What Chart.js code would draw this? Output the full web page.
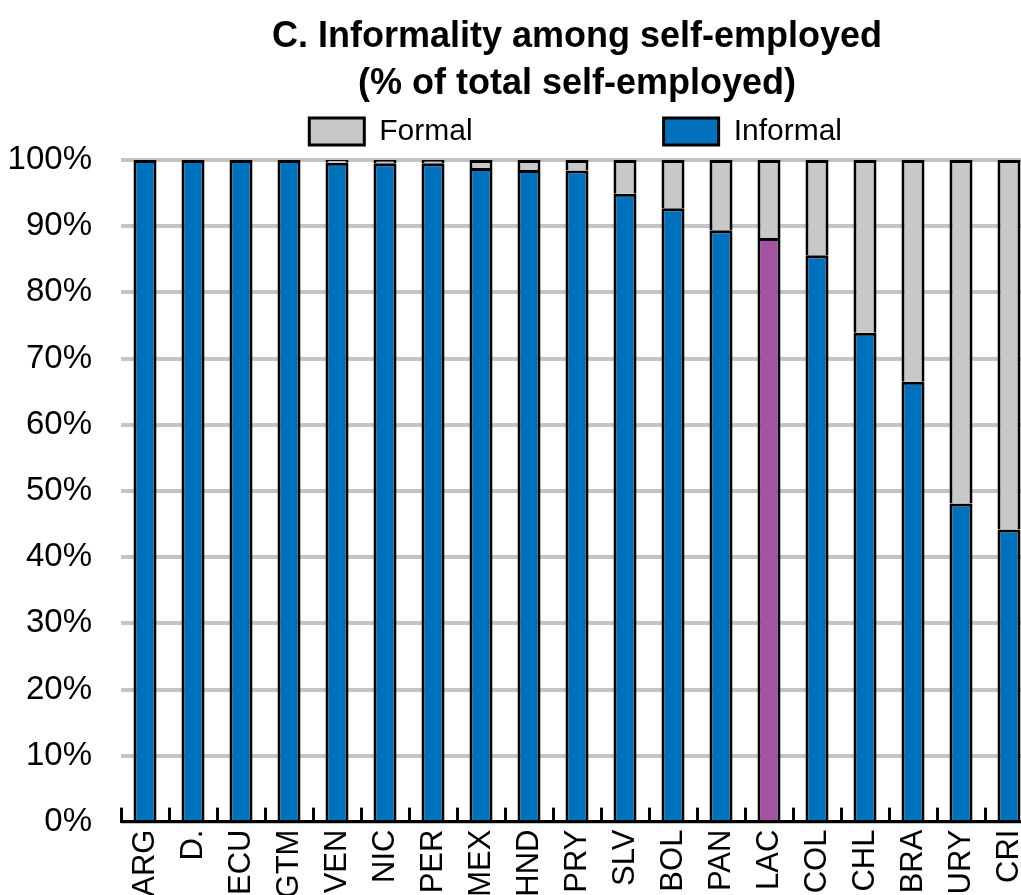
<!DOCTYPE html>
<html><head><meta charset="utf-8">
<script src="https://cdn.jsdelivr.net/npm/chart.js@4.4.1/dist/chart.umd.min.js"></script>
<style>html,body{margin:0;padding:0;background:#fff;overflow:hidden}#wrap{width:1039px;height:910px}</style>
</head><body><div id="wrap"><canvas id="c" width="1039" height="910"></canvas></div>
<script>
const categories = ['ARG','D.','ECU','GTM','VEN','NIC','PER','MEX','HND','PRY','SLV','BOL','PAN','LAC','COL','CHL','BRA','URY','CRI'];
const informal = [100,100,100,100,99.6,99.5,99.5,98.8,98.5,98.4,94.9,92.7,89.4,88.2,85.6,73.9,66.5,48.1,44.2];
const formal = [0,0,0,0,0.4,0.5,0.5,1.2,1.5,1.6,5.1,7.3,10.6,11.8,14.4,26.1,33.5,51.9,55.8];
const yTickLabels = ['0%','10%','20%','30%','40%','50%','60%','70%','80%','90%','100%'];
const titleLines = ['C. Informality among self-employed','(% of total self-employed)'];

const FONT = 'Liberation Sans, Arial, sans-serif';
const BLUE = '#0071bc', PURPLE = '#a453a4', GREY = '#c8c8c8';

const legendNudge = {
  id: 'legendNudge',
  afterLayout(chart) {
    if (chart.legend) { chart.legend.top -= 3; chart.legend.bottom -= 3; }
  }
};

new Chart(document.getElementById('c'), {
  type: 'bar',
  data: {
    labels: categories,
    datasets: [
      { label: 'Informal', data: informal,
        backgroundColor: c => categories[c.dataIndex] === 'LAC' ? PURPLE : BLUE,
        borderColor: '#000', borderWidth: 3, barPercentage: 0.48, categoryPercentage: 1.0 },
      { label: 'Formal', data: formal, backgroundColor: GREY,
        borderColor: '#000', borderWidth: 3, barPercentage: 0.48, categoryPercentage: 1.0 }
    ]
  },
  plugins: [legendNudge],
  options: {
    responsive: false, animation: false, devicePixelRatio: 1,
    layout: { padding: { top: -71, right: 6, left: 0, bottom: 0 } },
    plugins: {
      title: { display: true, text: titleLines, color: '#000', fullSize: false,
        font: { family: FONT, size: 36, weight: 'bold', lineHeight: 1.3 },
        padding: { top: 85, bottom: -179 } },
      legend: { display: true, reverse: true, align: 'end',
        labels: { boxWidth: 55, boxHeight: 27, padding: 191, color: '#000',
          font: { family: FONT, size: 30 } } },
      tooltip: { enabled: false }
    },
    scales: {
      x: { stacked: true, offset: true,
        grid: { display: true, offset: true, drawOnChartArea: false, drawTicks: true, tickLength: -14, color: '#000', lineWidth: 3 },
        border: { display: true, color: '#000', width: 3 },
        ticks: { minRotation: 90, maxRotation: 90, autoSkip: false, padding: 22, color: '#000',
          font: { family: FONT, size: 31 } },
        afterFit: s => { s.height = 88; s.paddingLeft = 0; s.paddingRight = 0; } },
      y: { stacked: true, min: 0, max: 100,
        ticks: { stepSize: 10, padding: 29, color: '#000', font: { family: FONT, size: 33 },
          callback: (v, i) => yTickLabels[i] },
        grid: { color: '#c4c4c4', lineWidth: 4, drawTicks: false },
        border: { display: false },
        afterFit: s => { s.width = 121; } }
    }
  }
});
</script></body></html>
